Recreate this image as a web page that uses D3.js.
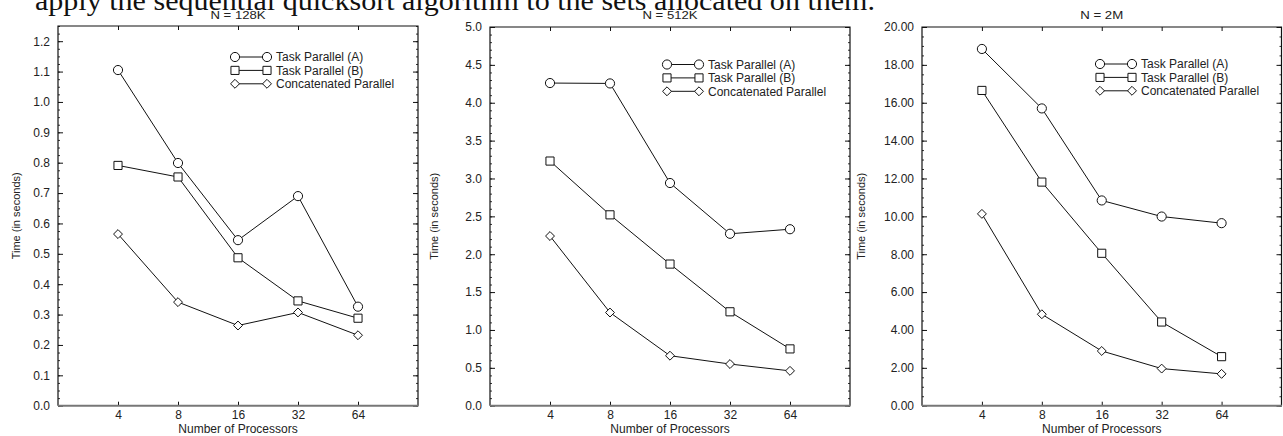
<!DOCTYPE html>
<html>
<head>
<meta charset="utf-8">
<script src="https://cdn.jsdelivr.net/npm/d3@7"></script>
<style>
  html, body { margin: 0; padding: 0; background: #fff; }
  svg { display: block; }
  text { font-family: "Liberation Sans", Arial, sans-serif; fill: #222; }
</style>
</head>
<body>
<svg id="fig" width="1283" height="436"></svg>
<script>
// Processor counts along the x axis
const processors = ["4", "8", "16", "32", "64"];
const seriesNames = ["Task Parallel (A)", "Task Parallel (B)", "Concatenated Parallel"];
const panelTitles = ["N = 128K", "N = 512K", "N = 2M"];

// Running times in seconds, N = 128K
const taskA_128K = [1.105, 0.799, 0.545, 0.690, 0.326];
const taskB_128K = [0.791, 0.753, 0.487, 0.345, 0.288];
const concat_128K = [0.565, 0.341, 0.264, 0.307, 0.232];

// Running times in seconds, N = 512K
const taskA_512K = [4.26, 4.255, 2.94, 2.27, 2.33];
const taskB_512K = [3.23, 2.52, 1.87, 1.24, 0.75];
const concat_512K = [2.24, 1.23, 0.66, 0.55, 0.46];

// Running times in seconds, N = 2M
const taskA_2M = [18.84, 15.70, 10.84, 9.99, 9.64];
const taskB_2M = [16.65, 11.81, 8.05, 4.42, 2.59];
const concat_2M = [10.13, 4.83, 2.89, 1.96, 1.68];

// Y-axis tick values for each panel
const yTicks128K = [0, 0.1, 0.2, 0.3, 0.4, 0.5, 0.6, 0.7, 0.8, 0.9, 1.0, 1.1, 1.2];
const yTicks512K = [0, 0.5, 1.0, 1.5, 2.0, 2.5, 3.0, 3.5, 4.0, 4.5, 5.0];
const yTicks2M = [0, 2, 4, 6, 8, 10, 12, 14, 16, 18, 20];

const svg = d3.select("#fig");

// Sentence from the surrounding text, cropped at the top edge
svg.append("text")
  .attr("x", 35).attr("y", 10)
  .attr("textLength", 840).attr("lengthAdjust", "spacingAndGlyphs")
  .style("font-family", "'Liberation Serif', 'DejaVu Serif', serif")
  .style("font-size", "27px").style("fill", "#111")
  .text("apply the sequential quicksort algorithm to the sets allocated on them.");

const panels = [
  { title: panelTitles[0], series: [taskA_128K, taskB_128K, concat_128K], ticks: yTicks128K,
    yMax: 1.25, minorStep: 0.025, fmt: ".1f", titleLen: 55, yLabelX: 20,
    box: { left: 58, right: 418, top: 26, bottom: 405.7 }, legendX: 233, legendY: 57 },
  { title: panelTitles[1], series: [taskA_512K, taskB_512K, concat_512K], ticks: yTicks512K,
    yMax: 5, minorStep: 0.1, fmt: ".1f", titleLen: 55, yLabelX: 438,
    box: { left: 490, right: 850, top: 27, bottom: 405.7 }, legendX: 665, legendY: 64.5 },
  { title: panelTitles[2], series: [taskA_2M, taskB_2M, concat_2M], ticks: yTicks2M,
    yMax: 20, minorStep: 0.5, fmt: ".2f", titleLen: 43, yLabelX: 865,
    box: { left: 922, right: 1281.5, top: 27, bottom: 405.7 }, legendX: 1098, legendY: 64 }
];

// Open circle, open square and open diamond (equal width and height)
const diamond = { draw(ctx, size) { const r = Math.sqrt(size) / 2 * 1.15;
  ctx.moveTo(0, -r); ctx.lineTo(r, 0); ctx.lineTo(0, r); ctx.lineTo(-r, 0); ctx.closePath(); } };
const markerTypes = [d3.symbolCircle, d3.symbolSquare, diamond];
const markerSizes = [66, 66, 60];

function marker(sel, i) {
  sel.attr("d", d3.symbol().type(markerTypes[i]).size(markerSizes[i])())
    .attr("fill", "#fff").attr("stroke", "#111").attr("stroke-width", 1);
}

panels.forEach(p => {
  const b = p.box;
  const g = svg.append("g");

  const x = d3.scalePoint().domain(processors).range([b.left, b.right]).padding(1);
  const y = d3.scaleLinear().domain([0, p.yMax]).range([b.bottom, b.top]);

  // Minor ticks, left and right, pointing inward
  const minor = d3.range(0, p.yMax + 1e-9, p.minorStep).map(v => +v.toFixed(4));
  g.append("g").attr("transform", `translate(${b.left},0)`)
    .call(d3.axisLeft(y).tickValues(minor).tickSize(-2).tickFormat(""))
    .call(s => s.select(".domain").remove())
    .selectAll("line").attr("stroke", "#333");
  g.append("g").attr("transform", `translate(${b.right},0)`)
    .call(d3.axisRight(y).tickValues(minor).tickSize(-2).tickFormat(""))
    .call(s => s.select(".domain").remove())
    .selectAll("line").attr("stroke", "#333");

  // Major ticks with labels on the left, plain ticks on the right
  const yl = g.append("g").attr("transform", `translate(${b.left},0)`)
    .call(d3.axisLeft(y).tickValues(p.ticks).tickSize(-5).tickPadding(8).tickFormat(d3.format(p.fmt)));
  yl.select(".domain").remove();
  yl.selectAll("line").attr("stroke", "#111");
  yl.selectAll("text").style("font-size", "12px").style("fill", "#222");
  const yr = g.append("g").attr("transform", `translate(${b.right},0)`)
    .call(d3.axisRight(y).tickValues(p.ticks).tickSize(-5).tickFormat(""));
  yr.select(".domain").remove();
  yr.selectAll("line").attr("stroke", "#111");

  // Category ticks on the top and bottom edges, pointing inward
  const xb = g.append("g").attr("transform", `translate(0,${b.bottom})`)
    .call(d3.axisBottom(x).tickSize(-4).tickPadding(5));
  xb.select(".domain").remove();
  xb.selectAll("line").attr("stroke", "#111");
  xb.selectAll("text").style("font-size", "12px").style("fill", "#222");
  const xt = g.append("g").attr("transform", `translate(0,${b.top})`)
    .call(d3.axisTop(x).tickSize(-4).tickFormat(""));
  xt.select(".domain").remove();
  xt.selectAll("line").attr("stroke", "#111");

  // Frame
  g.append("path")
    .attr("d", `M${b.left},${b.bottom}V${b.top}H${b.right}V${b.bottom}`)
    .attr("fill", "none").attr("stroke", "#111").attr("stroke-width", 1.2);
  g.append("line")
    .attr("x1", b.left).attr("x2", b.right + 0.5)
    .attr("y1", b.bottom).attr("y2", b.bottom)
    .attr("stroke", "#777").attr("stroke-width", 2);

  // Series lines and markers
  const line = d3.line().x((d, i) => x(processors[i])).y(d => y(d));
  p.series.forEach((vals, si) => {
    g.append("path").datum(vals).attr("d", line)
      .attr("fill", "none").attr("stroke", "#111").attr("stroke-width", 1);
    g.selectAll(null).data(vals).join("path")
      .attr("transform", (d, i) => `translate(${x(processors[i])},${y(d)})`)
      .call(marker, si);
  });

  // Legend
  seriesNames.forEach((name, si) => {
    const ly = p.legendY + si * 13.4;
    g.append("line").attr("x1", p.legendX).attr("x2", p.legendX + 36)
      .attr("y1", ly).attr("y2", ly).attr("stroke", "#111").attr("stroke-width", 1);
    g.append("path").attr("transform", `translate(${p.legendX + 2},${ly})`).call(marker, si);
    g.append("path").attr("transform", `translate(${p.legendX + 34},${ly})`).call(marker, si);
    g.append("text").attr("x", p.legendX + 43).attr("y", ly + 4.3)
      .style("font-size", "12px").style("fill", "#222").text(name);
  });

  // Title
  const cx = (b.left + b.right) / 2;
  g.append("text").attr("x", cx).attr("y", 18.5).attr("text-anchor", "middle")
    .attr("textLength", p.titleLen).attr("lengthAdjust", "spacingAndGlyphs")
    .style("font-size", "10.5px").style("fill", "#222").text(p.title);

  // Axis titles
  g.append("text").attr("x", cx).attr("y", 433).attr("text-anchor", "middle")
    .style("font-size", "12px").style("fill", "#222").text("Number of Processors");
  g.append("text")
    .attr("transform", `translate(${p.yLabelX},${(b.top + b.bottom) / 2}) rotate(-90)`)
    .attr("text-anchor", "middle")
    .style("font-size", "11px").style("fill", "#222").text("Time (in seconds)");
});
</script>
</body>
</html>
